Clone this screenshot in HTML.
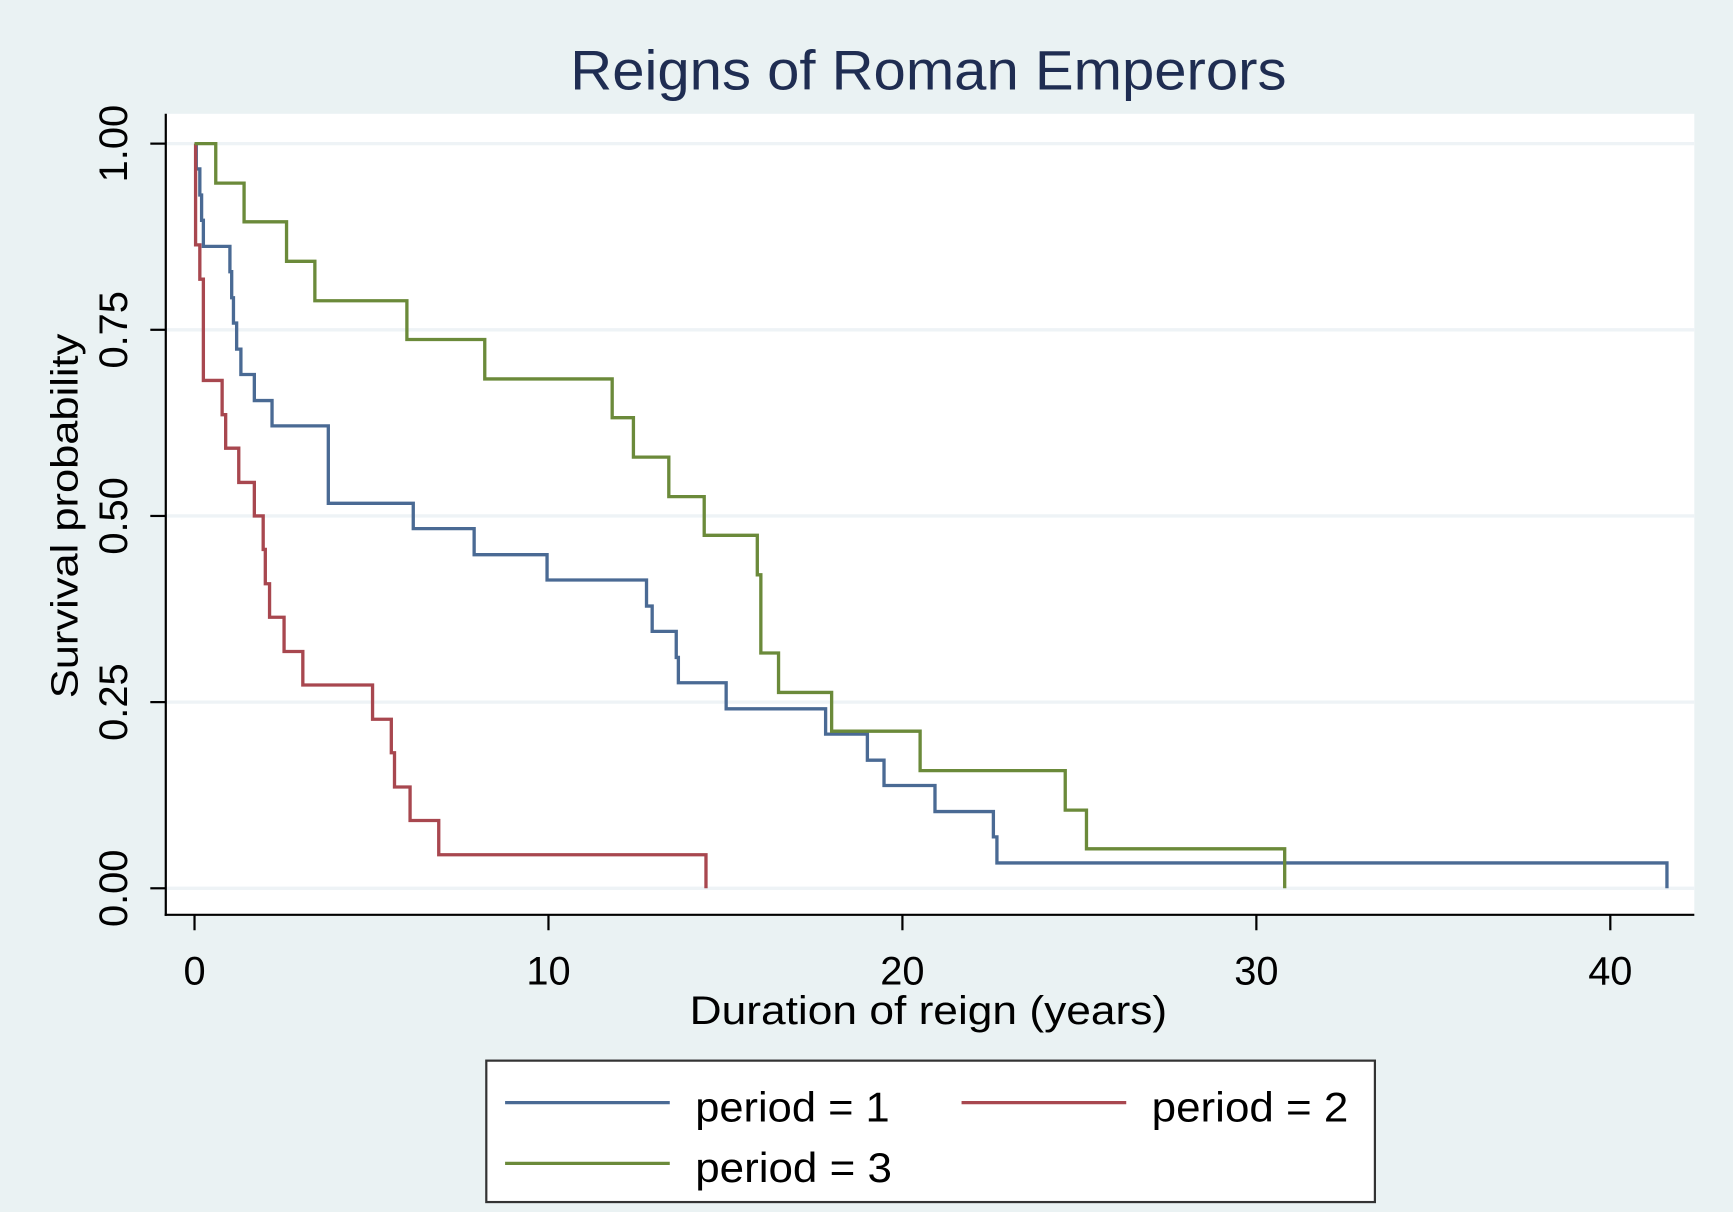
<!DOCTYPE html>
<html><head><meta charset="utf-8"><style>
html,body{margin:0;padding:0;background:#eaf2f3;}
svg{display:block;font-family:"Liberation Sans Narrow","Liberation Sans",sans-serif;}
</style></head><body>
<svg id="chart" width="1733" height="1212" viewBox="0 0 1568 1097" preserveAspectRatio="none" xmlns="http://www.w3.org/2000/svg">
<rect x="0" y="0" width="1568" height="1097" fill="#eaf2f3"/>
<text x="840" y="81" text-anchor="middle" font-size="50" fill="#1f2d52" textLength="648" lengthAdjust="spacingAndGlyphs">Reigns of Roman Emperors</text>
<rect x="150" y="103" width="1383" height="725" fill="#ffffff"/>
<g id="grid"></g>
<g id="series"></g>
<line x1="150" y1="103" x2="150" y2="829" stroke="#000" stroke-width="2"/>
<line x1="149" y1="828" x2="1533" y2="828" stroke="#000" stroke-width="2"/>
<g id="yticks"></g>
<g id="xticks"></g>
<text transform="translate(70,467) rotate(-90)" text-anchor="middle" font-size="34" fill="#000" textLength="330" lengthAdjust="spacingAndGlyphs">Survival probability</text>
<text x="840" y="927" text-anchor="middle" font-size="36" fill="#000" textLength="432" lengthAdjust="spacingAndGlyphs">Duration of reign (years)</text>
<g>
<rect x="440" y="960" width="804" height="128" fill="#fff" stroke="#333" stroke-width="2"/>
<g>
<line x1="457" y1="998" x2="606" y2="998" stroke="#4a6a94" stroke-width="3"/>
<text x="629" y="1015" font-size="38" fill="#000" textLength="176" lengthAdjust="spacingAndGlyphs">period = 1</text></g>
<g>
<line x1="870" y1="998" x2="1019" y2="998" stroke="#a8474f" stroke-width="3"/>
<text x="1042" y="1015" font-size="38" fill="#000" textLength="178" lengthAdjust="spacingAndGlyphs">period = 2</text></g>
<g>
<line x1="457" y1="1053" x2="606" y2="1053" stroke="#6b8a3a" stroke-width="3"/>
<text x="629" y="1070" font-size="38" fill="#000" textLength="178" lengthAdjust="spacingAndGlyphs">period = 3</text></g>
</g>
</svg>
<script>
const yTickValues = [0, 0.25, 0.5, 0.75, 1];
const yTickLabels = ["0.00", "0.25", "0.50", "0.75", "1.00"];
const xTickValues = [0, 10, 20, 30, 40];
const xTickLabels = ["0", "10", "20", "30", "40"];
const p1Times = [0,0.05,0.15,0.2,0.25,1.0,1.05,1.1,1.19,1.31,1.69,2.19,3.78,6.18,7.9,9.96,12.77,12.93,13.61,13.67,15.02,17.83,19.01,19.48,20.92,22.57,22.67,41.6];
const p1Surv = [1,0.966,0.931,0.897,0.862,0.828,0.793,0.759,0.724,0.690,0.655,0.621,0.517,0.483,0.448,0.414,0.379,0.345,0.310,0.276,0.241,0.207,0.172,0.138,0.103,0.069,0.034,0];
const p2Times = [0,0.03,0.15,0.25,0.78,0.88,1.25,1.69,1.94,2.0,2.12,2.53,3.06,5.03,5.56,5.65,6.09,6.9,14.45];
const p2Surv = [1,0.864,0.818,0.682,0.636,0.591,0.545,0.5,0.455,0.409,0.364,0.318,0.273,0.227,0.182,0.136,0.091,0.045,0];
const p3Times = [0,0.6,1.4,2.6,3.4,6.0,8.2,11.8,12.4,13.4,14.4,15.9,16.0,16.5,18.0,20.5,24.6,25.2,30.8];
const p3Surv = [1,0.947,0.895,0.842,0.789,0.737,0.684,0.632,0.579,0.526,0.474,0.421,0.316,0.263,0.211,0.158,0.105,0.053,0];

const NS = "http://www.w3.org/2000/svg";
function xs(v){ return 176 + v * (1457 - 176) / 40; }
function ys(v){ return 804 - v * (804 - 130); }
function mk(tag, attrs, parent){ const e = document.createElementNS(NS, tag); for (const k in attrs) e.setAttribute(k, attrs[k]); parent.appendChild(e); return e; }

const grid = document.getElementById("grid");
const yt = document.getElementById("yticks");
yTickValues.forEach((v, i) => {
  const g = mk("line", {x1:150, x2:1533, y1:ys(v), y2:ys(v), stroke:"#eef3f6", "stroke-width":3}, grid);
  
  
  const t = mk("line", {x1:136, x2:150, y1:ys(v), y2:ys(v), stroke:"#000", "stroke-width":2}, yt);
  
  
  const l = mk("text", {transform:`translate(115,${ys(v)}) rotate(-90)`, "text-anchor":"middle", "font-size":36, fill:"#000"}, yt);
  l.textContent = yTickLabels[i];
  
  
});
const xt = document.getElementById("xticks");
xTickValues.forEach((v, i) => {
  const t = mk("line", {x1:xs(v), x2:xs(v), y1:828, y2:842, stroke:"#000", "stroke-width":2}, xt);
  
  
  const l = mk("text", {x:xs(v), y:891, "text-anchor":"middle", "font-size":36, fill:"#000"}, xt);
  l.textContent = xTickLabels[i];
  
  
});

const sg = document.getElementById("series");
function stepPath(times, surv){
  let d = `M${xs(times[0])},${ys(surv[0])}`;
  for (let i = 1; i < times.length; i++) {
    d += ` H${xs(times[i])} V${ys(surv[i])}`;
  }
  return d;
}
const s1 = mk("path", {d:stepPath(p1Times, p1Surv), fill:"none", stroke:"#4a6a94", "stroke-width":3}, sg);


const s2 = mk("path", {d:stepPath(p2Times, p2Surv), fill:"none", stroke:"#a8474f", "stroke-width":3}, sg);


const s3 = mk("path", {d:stepPath(p3Times, p3Surv), fill:"none", stroke:"#6b8a3a", "stroke-width":3}, sg);


</script>
</body></html>
